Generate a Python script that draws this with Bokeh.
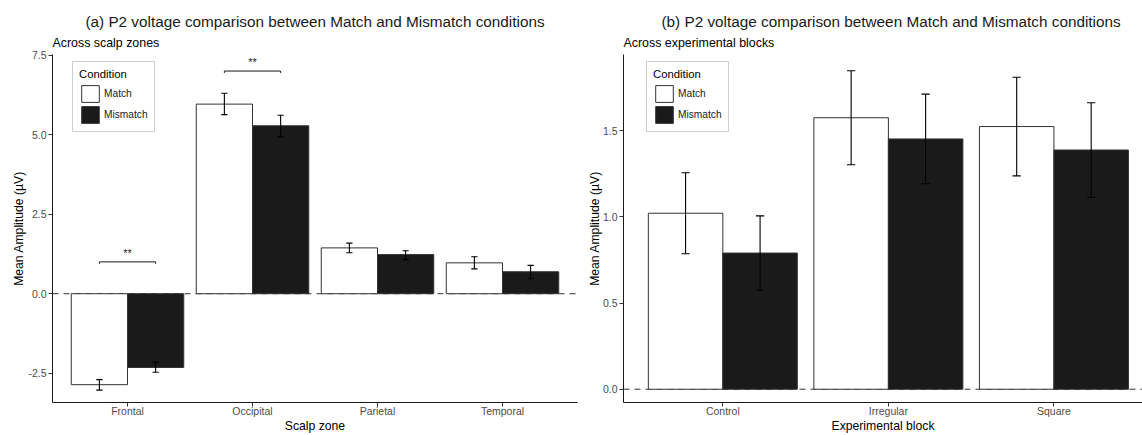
from bokeh.plotting import figure
from bokeh.models import (Range1d, FixedTicker, Span, Legend, LegendItem, Title,
                          NumeralTickFormatter)
from bokeh.layouts import row
from bokeh.embed import file_html
from bokeh.resources import INLINE
from bokeh.core.properties import value

# ---------------- data ----------------
conditions = ["Match", "Mismatch"]

zones = ["Frontal", "Occipital", "Parietal", "Temporal"]
zone_match = [-2.86, 5.96, 1.44, 0.97]
zone_match_lo = [-3.03, 5.63, 1.29, 0.78]
zone_match_hi = [-2.70, 6.30, 1.59, 1.16]
zone_mismatch = [-2.32, 5.28, 1.23, 0.69]
zone_mismatch_lo = [-2.47, 4.93, 1.07, 0.47]
zone_mismatch_hi = [-2.15, 5.61, 1.35, 0.89]
zone_yticks = [-2.5, 0.0, 2.5, 5.0, 7.5]

sig_zones = ["Frontal", "Occipital"]
sig_y = [1.0, 7.0]
sig_labels = ["**", "**"]

blocks = ["Control", "Irregular", "Square"]
block_match = [1.021, 1.575, 1.524]
block_match_lo = [0.786, 1.302, 1.238]
block_match_hi = [1.256, 1.848, 1.810]
block_mismatch = [0.790, 1.452, 1.388]
block_mismatch_lo = [0.574, 1.192, 1.114]
block_mismatch_hi = [1.006, 1.712, 1.662]
block_yticks = [0.0, 0.5, 1.0, 1.5]

FONT = "Liberation Sans"
BAR_W = 0.45
CAP = 0.025


def make_panel(cats, m, mlo, mhi, mm, mmlo, mmhi, yticks, title, subtitle,
               xlabel, y_range, x_end, width, border_left, border_right,
               legend_xy, title_align, title_offset, sub_offset, ylabel_standoff):
    p = figure(width=width, height=435, output_backend="svg", toolbar_location=None,
               x_range=Range1d(0.4, x_end), y_range=Range1d(*y_range),
               min_border_left=border_left, min_border_right=border_right,
               min_border_top=54, min_border_bottom=0)
    p.add_layout(Title(text=subtitle, align="left", offset=sub_offset,
                       text_font_size="12.4px", text_font_style="normal",
                       text_font=FONT, text_color="#000000", standoff=9), "above")
    p.add_layout(Title(text=title, align=title_align, offset=title_offset,
                       text_font_size="15.3px", text_font_style="normal",
                       text_font=FONT, text_color="#1A1A1A", standoff=-1), "above")

    p.add_layout(Span(location=0, dimension="width", line_color="#333333",
                      line_width=1, line_dash="6 5", level="underlay"))

    idx = list(range(1, len(cats) + 1))
    xm = [i - BAR_W / 2 for i in idx]
    xmm = [i + BAR_W / 2 for i in idx]
    r1 = p.vbar(x=xm, top=m, bottom=0, width=BAR_W, fill_color="white",
                line_color="#333333", line_width=1)
    r2 = p.vbar(x=xmm, top=mm, bottom=0, width=BAR_W, fill_color="#1A1A1A",
                line_color="#333333", line_width=1)

    for xs, lo, hi in ((xm, mlo, mhi), (xmm, mmlo, mmhi)):
        p.segment(x0=xs, x1=xs, y0=lo, y1=hi, line_color="black", line_width=1.1)
        p.segment(x0=[x - CAP for x in xs], x1=[x + CAP for x in xs], y0=lo, y1=lo,
                  line_color="black", line_width=1.1)
        p.segment(x0=[x - CAP for x in xs], x1=[x + CAP for x in xs], y0=hi, y1=hi,
                  line_color="black", line_width=1.1)

    legend = Legend(items=[LegendItem(label=conditions[0], renderers=[r1]),
                           LegendItem(label=conditions[1], renderers=[r2])],
                    title="Condition", location=legend_xy, orientation="vertical",
                    title_text_font_size="11.3px", title_text_font_style="normal",
                    title_text_font=FONT, title_text_color="#000000",
                    label_text_font_size="10.2px", label_text_font=FONT,
                    label_text_color="#1A1A1A",
                    glyph_width=22, glyph_height=21, label_height=20,
                    spacing=0, padding=6, margin=0, label_standoff=3,
                    title_standoff=3, border_line_color="#A0A0A0",
                    border_line_width=1, background_fill_color="white",
                    background_fill_alpha=1)
    p.add_layout(legend)

    xa = p.xaxis[0]
    ya = p.yaxis[0]
    xa.ticker = FixedTicker(ticks=idx)
    xa.major_label_overrides = {i: c for i, c in zip(idx, cats)}
    ya.ticker = FixedTicker(ticks=yticks)
    ya.formatter = NumeralTickFormatter(format="0.0")
    xa.axis_label = xlabel
    ya.axis_label = "Mean Amplitude (\u00b5V)"
    for ax in (xa, ya):
        ax.axis_line_color = "#1A1A1A"
        ax.axis_line_width = 1
        ax.major_tick_line_color = "#333333"
        ax.major_tick_out = 4
        ax.major_tick_in = 0
        ax.minor_tick_line_color = None
        ax.major_label_text_color = "#4D4D4D"
        ax.major_label_text_font_size = "10.5px"
        ax.major_label_text_font = FONT
        ax.axis_label_text_font = FONT
        ax.axis_label_text_font_size = "12.2px"
        ax.axis_label_text_font_style = "normal"
        ax.axis_label_text_color = "#000000"
    xa.major_label_standoff = -2
    xa.axis_label_standoff = -1
    ya.major_label_standoff = 2
    ya.axis_label_standoff = ylabel_standoff
    p.xgrid.grid_line_color = None
    p.ygrid.grid_line_color = None
    p.outline_line_color = None
    p.background_fill_color = "white"
    p.border_fill_color = "white"
    return p, idx


pa, idx_a = make_panel(zones, zone_match, zone_match_lo, zone_match_hi,
                       zone_mismatch, zone_mismatch_lo, zone_mismatch_hi, zone_yticks,
                       "(a) P2 voltage comparison between Match and Mismatch conditions",
                       "Across scalp zones", "Scalp zone", (-3.42, 7.52), 4.6,
                       584, 52, 7, (20, 270), "center", 0, 0, -1)

# significance brackets (panel a)
sx = [zones.index(z) + 1 for z in sig_zones]
tip = 0.06
pa.segment(x0=[x - BAR_W / 2 for x in sx], x1=[x + BAR_W / 2 for x in sx],
           y0=sig_y, y1=sig_y, line_color="#1A1A1A", line_width=1)
pa.segment(x0=[x - BAR_W / 2 for x in sx], x1=[x - BAR_W / 2 for x in sx],
           y0=sig_y, y1=[y - tip for y in sig_y], line_color="#1A1A1A", line_width=1)
pa.segment(x0=[x + BAR_W / 2 for x in sx], x1=[x + BAR_W / 2 for x in sx],
           y0=sig_y, y1=[y - tip for y in sig_y], line_color="#1A1A1A", line_width=1)
pa.text(x=sx, y=sig_y, text=sig_labels, text_align="center",
        text_baseline="alphabetic", y_offset=-9, text_font_size="11px",
        text_font=value(FONT), text_color="#1A1A1A")

pb, idx_b = make_panel(blocks, block_match, block_match_lo, block_match_hi,
                       block_mismatch, block_mismatch_lo, block_mismatch_hi, block_yticks,
                       "(b) P2 voltage comparison between Match and Mismatch conditions",
                       "Across experimental blocks", "Experimental block",
                       (-0.077, 1.942), 3.535, 558, 39, 0, (23, 270), "left", 38, 0, -2)

layout = row(pa, pb)
open("out.html", "w").write(file_html(layout, INLINE))
